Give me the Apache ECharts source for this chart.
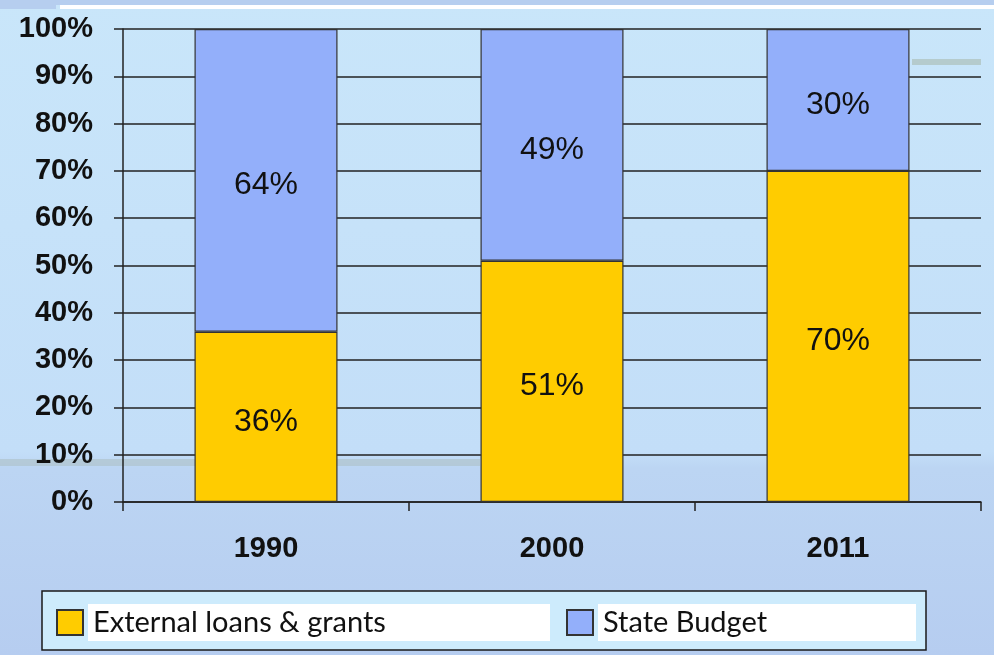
<!DOCTYPE html>
<html>
<head>
<meta charset="utf-8">
<script src="https://cdn.jsdelivr.net/npm/echarts@6/dist/echarts.min.js"></script>
<style>
html,body{margin:0;padding:0;}
#chart{width:994px;height:655px;}
</style>
</head>
<body>
<div id="chart"></div>
<script>
const categories = ['1990', '2000', '2011'];
const externalLoans = [36, 51, 70];
const stateBudget = [64, 49, 30];
const seriesNames = ['External loans & grants', 'State Budget'];

const chart = echarts.init(document.getElementById('chart'));
const labelStyle = {
  show: true,
  position: 'inside',
  offset: [0, 5],
  formatter: '{c}%',
  fontFamily: 'Liberation Sans, Arial, sans-serif',
  fontSize: 32,
  color: '#111'
};
chart.setOption({
  animation: false,
  backgroundColor: {
    type: 'linear', x: 0, y: 0, x2: 0, y2: 1,
    colorStops: [
      {offset: 0, color: '#C9E6FA'},
      {offset: 0.69, color: '#C3DEF8'},
      {offset: 0.715, color: '#BCD5F3'},
      {offset: 1, color: '#B6CDF0'}
    ]
  },
  graphic: [
    {type: 'rect', shape: {x: 0, y: 0, width: 994, height: 5}, style: {fill: '#B6CEEF'}, z: 0},
    {type: 'rect', shape: {x: 0, y: 5, width: 56, height: 4}, style: {fill: '#B6CEEF'}, z: 0},
    {type: 'rect', shape: {x: 60, y: 5, width: 934, height: 4}, style: {fill: '#FFFFFF'}, z: 0},
    {type: 'rect', shape: {x: 912, y: 59, width: 69, height: 6}, style: {fill: '#B0C4C2', opacity: 0.8}, z: 0},
    {type: 'rect', shape: {x: 0, y: 459, width: 480, height: 7}, style: {fill: '#AFC3CC', opacity: 0.7}, z: 0}
  ],
  grid: {left: 123, right: 13, top: 29, bottom: 153},
  legend: {
    left: 42, top: 591,
    padding: [13, 10, 9, 14],
    backgroundColor: '#CDEBFC',
    borderColor: '#1A1A1A',
    borderWidth: 1.5,
    borderRadius: 0,
    itemWidth: 26, itemHeight: 25, itemGap: 16,
    icon: 'rect',
    selectedMode: false,
    textStyle: {
      fontFamily: 'Lato, Carlito, Calibri, sans-serif',
      fontSize: 29,
      lineHeight: 31,
      color: '#111',
      backgroundColor: '#FFFFFF',
      padding: [3, 5]
    },
    data: [
      {name: seriesNames[0], textStyle: {width: 452}},
      {name: seriesNames[1], textStyle: {width: 308}}
    ]
  },
  xAxis: {
    type: 'category',
    data: categories,
    axisLine: {lineStyle: {color: '#222', width: 1.5}},
    axisTick: {show: true, length: 9, lineStyle: {color: '#222', width: 1.5}},
    axisLabel: {margin: 32, fontFamily: 'Liberation Sans, Arial, sans-serif', fontWeight: 'bold', fontSize: 29, color: '#111'}
  },
  yAxis: {
    type: 'value', min: 0, max: 100, interval: 10,
    axisLine: {show: true, lineStyle: {color: '#222', width: 1.5}},
    axisTick: {show: true, length: 9, lineStyle: {color: '#222', width: 1.5}},
    axisLabel: {formatter: '{value}%', margin: 30, fontFamily: 'Liberation Sans, Arial, sans-serif', fontWeight: 'bold', fontSize: 29, color: '#111'},
    splitLine: {lineStyle: {color: '#222', width: 1.5}}
  },
  series: [
    {
      name: seriesNames[0], type: 'bar', stack: 'total', barWidth: '50%',
      data: externalLoans,
      itemStyle: {color: '#FFCC00', borderColor: '#333', borderWidth: 1.2},
      label: labelStyle
    },
    {
      name: seriesNames[1], type: 'bar', stack: 'total', barWidth: '50%',
      data: stateBudget,
      itemStyle: {color: '#93AFFA', borderColor: '#333', borderWidth: 1.2},
      label: labelStyle
    }
  ]
});
</script>
</body>
</html>
